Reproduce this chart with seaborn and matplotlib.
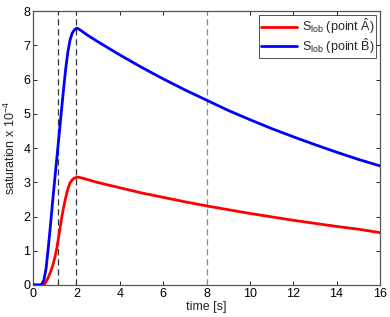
import pandas as pd
import matplotlib
matplotlib.use('Agg')
import matplotlib.pyplot as plt
import seaborn as sns

# --- data ---
time = [0, 0.3, 0.4, 0.5, 0.6, 0.7, 0.8, 0.9, 1.0, 1.1, 1.2, 1.3, 1.4, 1.5, 1.6, 1.7,
        1.8, 1.9, 2.0, 2.1, 2.5, 3, 4, 5, 6, 7, 8, 9, 10, 11, 12, 13, 14, 15, 16]
sat_a = [0, 0, 0, 0, 0.1, 0.22, 0.38, 0.56, 0.8, 1.1, 1.5, 1.9, 2.25, 2.55, 2.8, 2.98,
         3.07, 3.12, 3.14, 3.15, 3.08, 2.99, 2.84, 2.69, 2.56, 2.43, 2.31, 2.2, 2.09, 1.99, 1.89, 1.8, 1.71, 1.63, 1.53]
sat_b = [0, 0, 0.02, 0.15, 0.5, 1.1, 1.75, 2.45, 3.1, 3.75, 4.4, 5.05, 5.7, 6.3, 6.8, 7.15,
         7.35, 7.45, 7.5, 7.48, 7.3, 7.1, 6.72, 6.36, 6.02, 5.7, 5.4, 5.1, 4.83, 4.57, 4.33, 4.1, 3.88, 3.67, 3.48]
labels = [r'S$_{\mathrm{lob}}$ (point $\hat{\mathrm{A}}$)', r'S$_{\mathrm{lob}}$ (point $\hat{\mathrm{B}}$)']
marker_times = [1.15, 2.0, 8.0]
marker_colors = ['#333333', '#333333', '#888888']

df = pd.concat([
    pd.DataFrame({'time': time, 'sat': sat_a, 'series': labels[0]}),
    pd.DataFrame({'time': time, 'sat': sat_b, 'series': labels[1]}),
])

sns.set_style('white')
plt.rcParams['font.family'] = ['Liberation Sans', 'DejaVu Sans']
plt.rcParams['font.size'] = 9
plt.rcParams['mathtext.fontset'] = 'custom'
plt.rcParams['mathtext.rm'] = 'Liberation Sans'
plt.rcParams['mathtext.it'] = 'Liberation Sans:italic'

fig = plt.figure(figsize=(3.9, 3.17), dpi=100)
ax = fig.add_axes([0.085, 0.101, 0.889, 0.864])

for xv, c in zip(marker_times, marker_colors):
    ax.axvline(xv, color=c, lw=0.9, ls=(0, (5, 3)), zorder=1)

sns.lineplot(data=df, x='time', y='sat', hue='series', palette=['#ff0000', '#0000ff'],
             lw=2, ax=ax, sort=False, zorder=3)

ax.set_xlim(0, 16)
ax.set_ylim(0, 8)
ax.set_xticks(range(0, 17, 2))
ax.set_yticks(range(0, 9))
ax.set_xlabel('time [s]', labelpad=1)
ax.set_ylabel('saturation x 10$^{-4}$', labelpad=4)
ax.tick_params(direction='in', length=3, width=0.6, top=True, right=True,
               bottom=True, left=True, pad=2, colors='#000000', labelsize=9)
for sp in ax.spines.values():
    sp.set_color('#555555')
    sp.set_linewidth(0.9)

leg = ax.legend(loc='upper right', frameon=True, fancybox=False, handlelength=2.9,
                borderpad=0.15, labelspacing=0.0, handletextpad=0.4, fontsize=9,
                borderaxespad=0.3)
leg.get_frame().set_edgecolor('#000000')
leg.get_frame().set_linewidth(0.6)

fig.savefig('out.png', dpi=100)
